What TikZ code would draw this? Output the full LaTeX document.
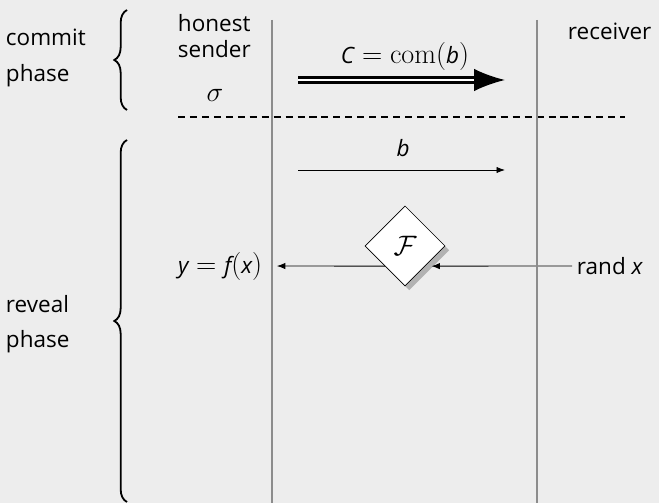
\RequirePackage{fix-cm}
\documentclass[tikz,border=0pt]{standalone}
\usepackage[no-math]{fontspec}
\setmainfont{Open Sans}
\usetikzlibrary{shapes.geometric,arrows.meta,positioning,shadows,calc,decorations.pathreplacing}
\definecolor{PageGray}{RGB}{237,237,237}
\definecolor{LifeGray}{RGB}{140,140,140}
\newcommand{\mv}[1]{\textit{#1}}
\DeclareMathSizes{16}{20}{14}{10}

\begin{document}
\begin{tikzpicture}[x=0.025cm, y=-0.025cm,
    every node/.style={font=\fontsize{16}{18}\selectfont},
    lifeline/.style={LifeGray, line width=2pt},
    msg/.style={-{Latex[length=6pt,width=4.5pt]}, line width=0.6pt},
    bigmsg/.style={double, double distance=2pt, line width=1.5pt, -{Latex[length=22pt,width=16pt]}},
    phasebrace/.style={decorate, decoration={brace, amplitude=9pt}, line width=1.3pt},
    oracle/.style={diamond, draw, fill=white, minimum size=2cm, inner sep=0pt,
      drop shadow={shadow xshift=3pt, shadow yshift=-3pt, fill=black!30, opacity=1}}]
  \useasboundingbox (0,0) rectangle (659,503);
  \fill[PageGray] (0,0) rectangle (659,503);
  % phases
  \node[align=left, anchor=west] (commit) at (1,58) {commit\\[7pt]phase};
  \node[align=left, anchor=west] (reveal) at (1,324) {reveal\\[7pt]phase};
  \draw[phasebrace] (127,110) -- (127,10);
  \draw[phasebrace] (127,502) -- (127,140);
  % parties
  \node[align=left, anchor=west] (snd) at (173,36) {honest\\sender};
  \node (sigma) at (215,95) {$\sigma$};
  \node[anchor=west] (rcv) at (563,31) {receiver};
  \coordinate (stop) at (272,20);
  \coordinate (sbot) at (272,503);
  \coordinate (rtop) at (537,20);
  \coordinate (rbot) at (537,503);
  % commit message
  \coordinate (c0) at (298,80);
  \coordinate (c1) at (505,80);
  \draw[bigmsg] (c0) -- (c1);
  \node (comlbl) at (405,56) {$\mv{C} = \mathrm{com}(\mv{b})$};
  % phase separator
  \coordinate (d0) at (178,117);
  \coordinate (d1) at (625,117);
  \draw[dash pattern=on 5pt off 3.5pt, line width=0.9pt] (d0) -- (d1);
  % reveal message
  \coordinate (b0) at (298,170);
  \coordinate (b1) at (505,170);
  \draw[msg] (b0) -- (b1);
  \node (blbl) at (403,148) {\mv{b}};
  % oracle
  \node[oracle] (F) at (405,246) {$\mathcal{F}$};
  \node[anchor=east] (y) at (267,266) {$\mv{y} = \mv{f}(\mv{x})$};
  \node[anchor=west] (randx) at (572,266) {rand \mv{x}};
  \draw[msg, shorten >=4.5pt] (randx.west) -- ($(F.east)!.5!(F.south)$);
  \draw[msg, shorten >=7pt] ($(F.west)!.5!(F.south)$) -- (y.east);
  % lifelines
  \draw[lifeline] (stop) -- (sbot);
  \draw[lifeline] (rtop) -- (rbot);
\end{tikzpicture}
\end{document}
